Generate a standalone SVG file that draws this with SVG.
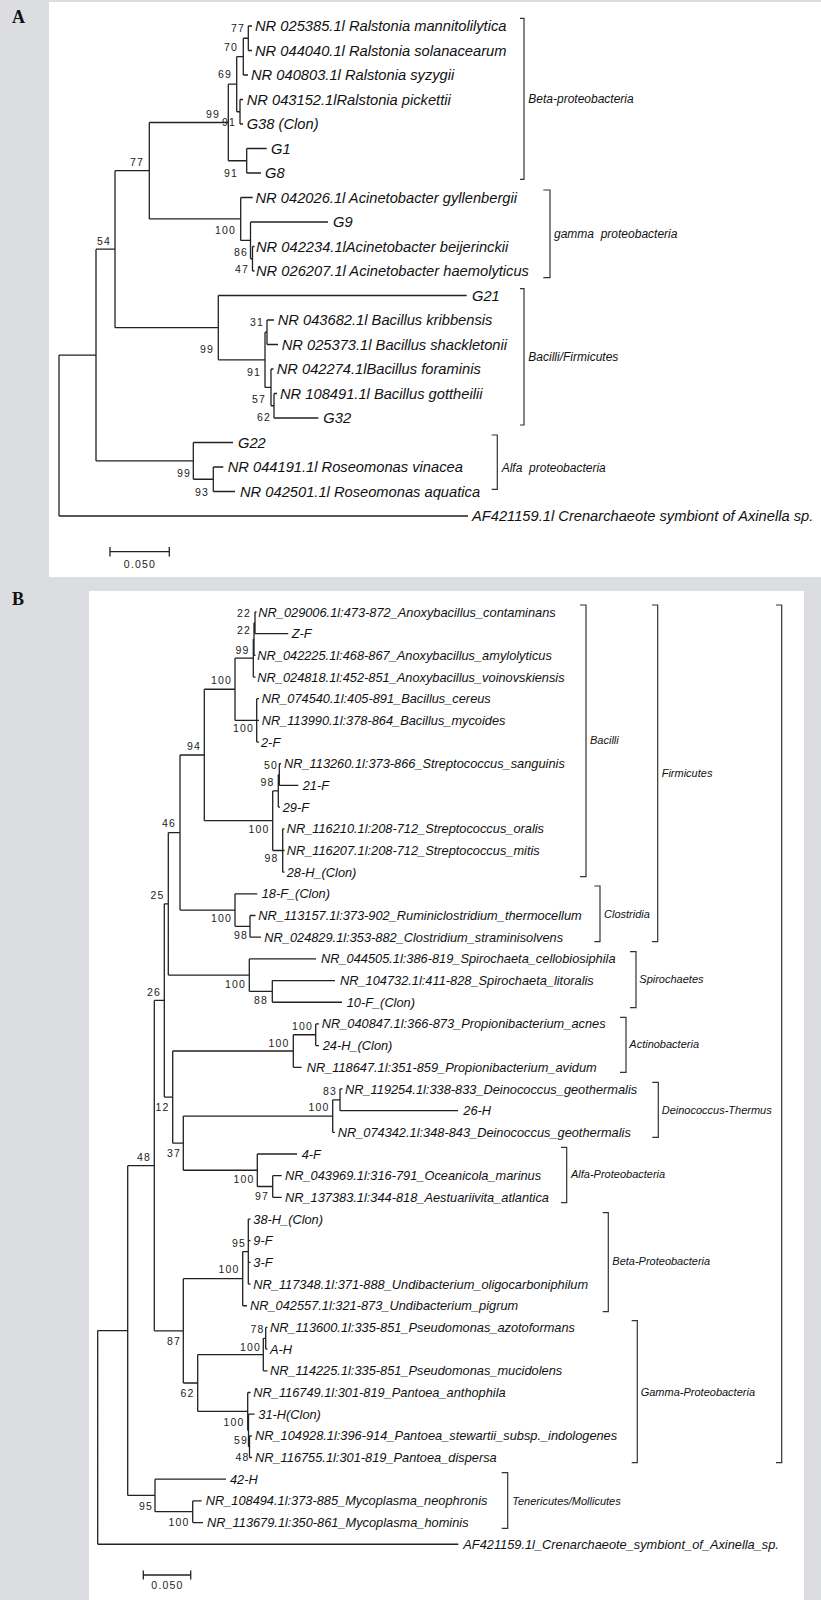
<svg xmlns="http://www.w3.org/2000/svg" width="821" height="1600" viewBox="0 0 821 1600">
<style>
.t{font-family:"Liberation Sans",Arial,sans-serif;font-style:italic;fill:#111}
.ta{font-size:14.7px}
.tb{font-size:12.8px}
.bs{font-family:"Liberation Sans",Arial,sans-serif;font-size:10.5px;letter-spacing:1.2px;fill:#222;text-anchor:end}
.sc{font-family:"Liberation Sans",Arial,sans-serif;font-size:10.5px;letter-spacing:1.2px;fill:#222;text-anchor:middle}
.cl{font-family:"Liberation Sans",Arial,sans-serif;font-style:italic;fill:#111}
.cla{font-size:12px}
.clb{font-size:11px}
.br{fill:none;stroke:#333;stroke-width:1.2}
.tr{fill:none;stroke:#222;stroke-width:1.3}
.pl{font-family:"Liberation Serif","Times New Roman",serif;font-weight:bold;font-size:18px;fill:#111}
</style>
<rect x="0" y="0" width="821" height="1600" fill="#dcdde0"/>
<rect x="49" y="2" width="772" height="575" fill="#ffffff"/>
<rect x="89" y="591" width="715" height="1009" fill="#ffffff"/>
<text class="pl" x="12" y="23">A</text>
<text class="pl" x="12" y="605">B</text>

<g id="connectors-a">
<path class="tr" d="M59 355.05V516M59 355.05H96M59 516H468
M96 249.2V460.9M96 249.2H115M96 460.9H193.3
M115 170.7V327.7M115 170.7H149.3M115 327.7H218.3
M149.3 122.5V218.9M149.3 122.5H228.3M149.3 218.9H240.7
M228.3 84.2V160.75M228.3 84.2H236.7M228.3 160.75H246.7
M236.7 56.6V111.75M236.7 56.6H243.3M236.7 111.75H240
M243.3 38.25V75M243.3 38.25H248.3M243.3 75H248
M248.3 26V50.5M248.3 26H252M248.3 50.5H252
M240 99.5V124M240 99.5H243M240 124H243
M246.7 148.5V173M246.7 148.5H266.7M246.7 173H261
M240.7 197.5V240.4M240.7 197.5H252.7M240.7 240.4H250.5
M250.5 222V258.75M250.5 222H328M250.5 258.75H252.5
M252.5 246.5V271M252.5 246.5H254.5M252.5 271H254.5
M218.3 295.5V359.8M218.3 295.5H466.7M218.3 359.8H265
M265 332.25V387.4M265 332.25H267M265 387.4H271
M267 320V344.5M267 320H274M267 344.5H278
M271 369V405.75M271 369H273.5M271 405.75H274
M274 393.5V418M274 393.5H277M274 418H318.3
M193.3 442.5V479.25M193.3 442.5H233M193.3 479.25H213.3
M213.3 467V491.5M213.3 467H223.3M213.3 491.5H235"/>
<path class="tr" d="M110 551.7H169.3M110 547V556.4M169.3 547V556.4"/>
</g>

<g id="tips-a">
<g id="a1"><text class="t ta" x="255" y="31">NR 025385.1l Ralstonia mannitolilytica</text></g>
<g id="a2"><text class="t ta" x="255" y="55.5">NR 044040.1l Ralstonia solanacearum</text></g>
<g id="a3"><text class="t ta" x="251" y="80">NR 040803.1l Ralstonia syzygii</text></g>
<g id="a4"><text class="t ta" x="246.7" y="104.5">NR 043152.1lRalstonia pickettii</text></g>
<g id="a5"><text class="t ta" x="246.7" y="129">G38 (Clon)</text></g>
<g id="a6"><text class="t ta" x="271" y="153.5">G1</text></g>
<g id="a7"><text class="t ta" x="265" y="178">G8</text></g>
<g id="a8"><text class="t ta" x="255.5" y="202.5">NR 042026.1l Acinetobacter gyllenbergii</text></g>
<g id="a9"><text class="t ta" x="333" y="227">G9</text></g>
<g id="a10"><text class="t ta" x="256" y="251.5">NR 042234.1lAcinetobacter beijerinckii</text></g>
<g id="a11"><text class="t ta" x="256" y="276">NR 026207.1l Acinetobacter haemolyticus</text></g>
<g id="a12"><text class="t ta" x="472" y="300.5">G21</text></g>
<g id="a13"><text class="t ta" x="277.7" y="325">NR 043682.1l Bacillus kribbensis</text></g>
<g id="a14"><text class="t ta" x="281.7" y="349.5">NR 025373.1l Bacillus shackletonii</text></g>
<g id="a15"><text class="t ta" x="276.7" y="374">NR 042274.1lBacillus foraminis</text></g>
<g id="a16"><text class="t ta" x="280" y="398.5">NR 108491.1l Bacillus gottheilii</text></g>
<g id="a17"><text class="t ta" x="323.3" y="423">G32</text></g>
<g id="a18"><text class="t ta" x="238" y="447.5">G22</text></g>
<g id="a19"><text class="t ta" x="227.7" y="472">NR 044191.1l Roseomonas vinacea</text></g>
<g id="a20"><text class="t ta" x="240" y="496.5">NR 042501.1l Roseomonas aquatica</text></g>
<g id="a21"><text class="t ta" x="472" y="521">AF421159.1l Crenarchaeote symbiont of Axinella sp.</text></g>
</g>

<g id="bootstrap-a">
<text class="bs" x="245" y="32">77</text>
<text class="bs" x="238" y="51">70</text>
<text class="bs" x="232" y="78">69</text>
<text class="bs" x="220" y="118">99</text>
<text class="bs" x="236" y="126">91</text>
<text class="bs" x="238" y="177">91</text>
<text class="bs" x="144" y="166">77</text>
<text class="bs" x="111" y="245">54</text>
<text class="bs" x="236" y="234">100</text>
<text class="bs" x="248" y="256">86</text>
<text class="bs" x="249" y="273">47</text>
<text class="bs" x="264" y="326">31</text>
<text class="bs" x="214" y="353">99</text>
<text class="bs" x="261" y="376">91</text>
<text class="bs" x="266" y="403">57</text>
<text class="bs" x="271" y="421">62</text>
<text class="bs" x="191" y="477">99</text>
<text class="bs" x="209" y="496">93</text>
<text class="sc" x="140" y="568">0.050</text>
</g>

<g id="clades-a">
<g id="a-beta"><path class="br" d="M520 18.3H524V179.3H520"/><text class="cl cla" x="528.3" y="103">Beta-proteobacteria</text></g>
<g id="a-gamma"><path class="br" d="M543.3 190H550V277.7H543.3"/><text class="cl cla" x="554" y="237.5" xml:space="preserve">gamma  proteobacteria</text></g>
<g id="a-bacilli"><path class="br" d="M520 288.7H524V425H520"/><text class="cl cla" x="528.3" y="360.7">Bacilli/Firmicutes</text></g>
<g id="a-alfa"><path class="br" d="M491.7 435H497.3V489.3H491.7"/><text class="cl cla" x="501.7" y="472.3" xml:space="preserve">Alfa  proteobacteria</text></g>
</g>

<g id="connectors-b">
<path class="tr" d="M97.7 1330.55V1544.24M97.7 1330.55H127.7M97.7 1544.24H458.3
M127.7 1165.64V1495.46M127.7 1165.64H154.3M127.7 1495.46H155
M154.3 1000.44V1330.83M154.3 1000.44H164.3M154.3 1330.83H183.3
M164.3 903.8V1097.08M164.3 903.8H168.3M164.3 1097.08H172.7
M168.3 832.55V975.1M168.3 832.55H180M168.3 975.1H249.3
M180 755V910.1M180 755H204.3M180 910.1H235
M204.3 689.25V820.7M204.3 689.25H235M204.3 820.7H272.7
M235 658.1V720.4M235 658.1H253.3M235 720.4H256.7
M253.3 639.1V677.04M253.3 639.1H254M253.3 677.04H255.5
M254 622.84V655.36M254 622.84H255M254 655.36H255.5
M255 612V633.68M255 612H256.5M255 633.68H288.3
M256.7 698.72V742.08M256.7 698.72H259M256.7 720.4H259M256.7 742.08H259
M272.7 790.9V850.5M272.7 790.9H278.3M272.7 850.5H282.7
M278.3 774.6V807.12M278.3 774.6H279.3M278.3 807.12H280
M279.3 763.76V785.44M279.3 763.76H281M279.3 785.44H298.3
M282.7 828.8V872.16M282.7 828.8H284.5M282.7 850.48H284.5M282.7 872.16H284.5
M235 893.84V926.36M235 893.84H257.3M235 926.36H250
M250 915.52V937.2M250 915.52H255.5M250 937.2H261
M249.3 958.88V991.4M249.3 958.88H316M249.3 991.4H272.3
M272.3 980.56V1002.24M272.3 980.56H335M272.3 1002.24H342
M172.7 1051V1143.16M172.7 1051H293.3M172.7 1143.16H183.3
M293.3 1034.76V1067.28M293.3 1034.76H315.7M293.3 1067.28H301.7
M315.7 1023.92V1045.6M315.7 1023.92H319M315.7 1045.6H319
M183.3 1116.06V1170.26M183.3 1116.06H332.7M183.3 1170.26H257.3
M332.7 1099.8V1132.32M332.7 1099.8H340M332.7 1132.32H335
M340 1088.96V1110.64M340 1088.96H342.5M340 1110.64H458
M257.3 1154V1186.52M257.3 1154H297M257.3 1186.52H272.7
M272.7 1175.68V1197.36M272.7 1175.68H281.7M272.7 1197.36H281.7
M183.3 1278.66V1383M183.3 1278.66H242.7M183.3 1383H197.7
M242.7 1251.56V1305.76M242.7 1251.56H248.3M242.7 1305.76H247
M248.3 1219.04V1284.08M248.3 1219.04H250.5M248.3 1240.72H250.5M248.3 1262.4H250.5M248.3 1284.08H250.5
M197.7 1354.54V1411.45M197.7 1354.54H263.3M197.7 1411.45H247.7
M263.3 1338.28V1370.8M263.3 1338.28H265.7M263.3 1370.8H267.5
M265.7 1327.44V1349.12M265.7 1327.44H267.5M265.7 1349.12H267.5
M247.7 1392.48V1430.42M247.7 1392.48H250.5M247.7 1430.42H248.5
M248.5 1414.16V1446.68M248.5 1414.16H254.5M248.5 1446.68H249.5
M249.5 1435.84V1457.52M249.5 1435.84H252M249.5 1457.52H252
M155 1479.2V1511.72M155 1479.2H226M155 1511.72H192.7
M192.7 1500.88V1522.56M192.7 1500.88H201.7M192.7 1522.56H203"/>
<path class="tr" d="M143.3 1575H190.7M143.3 1570.5V1579.5M190.7 1570.5V1579.5"/>
</g>

<g id="tips-b">
<g id="b1"><text class="t tb" x="258.3" y="616.5">NR_029006.1l:473-872_Anoxybacillus_contaminans</text></g>
<g id="b2"><text class="t tb" x="291.7" y="638.2">Z-F</text></g>
<g id="b3"><text class="t tb" x="257.3" y="659.9">NR_042225.1l:468-867_Anoxybacillus_amylolyticus</text></g>
<g id="b4"><text class="t tb" x="257.3" y="681.5">NR_024818.1l:452-851_Anoxybacillus_voinovskiensis</text></g>
<g id="b5"><text class="t tb" x="261.7" y="703.2">NR_074540.1l:405-891_Bacillus_cereus</text></g>
<g id="b6"><text class="t tb" x="261.7" y="724.9">NR_113990.1l:378-864_Bacillus_mycoides</text></g>
<g id="b7"><text class="t tb" x="261" y="746.6">2-F</text></g>
<g id="b8"><text class="t tb" x="284" y="768.3">NR_113260.1l:373-866_Streptococcus_sanguinis</text></g>
<g id="b9"><text class="t tb" x="302.7" y="789.9">21-F</text></g>
<g id="b10"><text class="t tb" x="282.7" y="811.6">29-F</text></g>
<g id="b11"><text class="t tb" x="286.7" y="833.3">NR_116210.1l:208-712_Streptococcus_oralis</text></g>
<g id="b12"><text class="t tb" x="286.7" y="855">NR_116207.1l:208-712_Streptococcus_mitis</text></g>
<g id="b13"><text class="t tb" x="286.7" y="876.7">28-H_(Clon)</text></g>
<g id="b14"><text class="t tb" x="261.7" y="898.3">18-F_(Clon)</text></g>
<g id="b15"><text class="t tb" x="258.3" y="920">NR_113157.1l:373-902_Ruminiclostridium_thermocellum</text></g>
<g id="b16"><text class="t tb" x="264.3" y="941.7">NR_024829.1l:353-882_Clostridium_straminisolvens</text></g>
<g id="b17"><text class="t tb" x="321" y="963.4">NR_044505.1l:386-819_Spirochaeta_cellobiosiphila</text></g>
<g id="b18"><text class="t tb" x="340" y="985.1">NR_104732.1l:411-828_Spirochaeta_litoralis</text></g>
<g id="b19"><text class="t tb" x="346.7" y="1006.7">10-F_(Clon)</text></g>
<g id="b20"><text class="t tb" x="321.7" y="1028.4">NR_040847.1l:366-873_Propionibacterium_acnes</text></g>
<g id="b21"><text class="t tb" x="322.7" y="1050.1">24-H_(Clon)</text></g>
<g id="b22"><text class="t tb" x="306.7" y="1071.8">NR_118647.1l:351-859_Propionibacterium_avidum</text></g>
<g id="b23"><text class="t tb" x="345" y="1093.5">NR_119254.1l:338-833_Deinococcus_geothermalis</text></g>
<g id="b24"><text class="t tb" x="463.3" y="1115.1">26-H</text></g>
<g id="b25"><text class="t tb" x="337.7" y="1136.8">NR_074342.1l:348-843_Deinococcus_geothermalis</text></g>
<g id="b26"><text class="t tb" x="301.7" y="1158.5">4-F</text></g>
<g id="b27"><text class="t tb" x="285" y="1180.2">NR_043969.1l:316-791_Oceanicola_marinus</text></g>
<g id="b28"><text class="t tb" x="285" y="1201.9">NR_137383.1l:344-818_Aestuariivita_atlantica</text></g>
<g id="b29"><text class="t tb" x="253.3" y="1223.5">38-H_(Clon)</text></g>
<g id="b30"><text class="t tb" x="253.3" y="1245.2">9-F</text></g>
<g id="b31"><text class="t tb" x="253.3" y="1266.9">3-F</text></g>
<g id="b32"><text class="t tb" x="253.3" y="1288.6">NR_117348.1l:371-888_Undibacterium_oligocarboniphilum</text></g>
<g id="b33"><text class="t tb" x="250" y="1310.3">NR_042557.1l:321-873_Undibacterium_pigrum</text></g>
<g id="b34"><text class="t tb" x="270" y="1331.9">NR_113600.1l:335-851_Pseudomonas_azotoformans</text></g>
<g id="b35"><text class="t tb" x="270" y="1353.6">A-H</text></g>
<g id="b36"><text class="t tb" x="270" y="1375.3">NR_114225.1l:335-851_Pseudomonas_mucidolens</text></g>
<g id="b37"><text class="t tb" x="253.3" y="1397">NR_116749.1l:301-819_Pantoea_anthophila</text></g>
<g id="b38"><text class="t tb" x="258.3" y="1418.7">31-H(Clon)</text></g>
<g id="b39"><text class="t tb" x="255" y="1440.3">NR_104928.1l:396-914_Pantoea_stewartii_subsp._indologenes</text></g>
<g id="b40"><text class="t tb" x="255" y="1462">NR_116755.1l:301-819_Pantoea_dispersa</text></g>
<g id="b41"><text class="t tb" x="230" y="1483.7">42-H</text></g>
<g id="b42"><text class="t tb" x="205.7" y="1505.4">NR_108494.1l:373-885_Mycoplasma_neophronis</text></g>
<g id="b43"><text class="t tb" x="207" y="1527.1">NR_113679.1l:350-861_Mycoplasma_hominis</text></g>
<g id="b44"><text class="t tb" x="463.3" y="1548.7">AF421159.1l_Crenarchaeote_symbiont_of_Axinella_sp.</text></g>
</g>

<g id="bootstrap-b">
<text class="bs" x="251" y="617">22</text>
<text class="bs" x="251" y="634">22</text>
<text class="bs" x="249.5" y="654">99</text>
<text class="bs" x="232" y="684">100</text>
<text class="bs" x="254" y="732">100</text>
<text class="bs" x="201" y="750">94</text>
<text class="bs" x="278" y="769">50</text>
<text class="bs" x="274.5" y="785.7">98</text>
<text class="bs" x="176" y="827.3">46</text>
<text class="bs" x="269.5" y="833.3">100</text>
<text class="bs" x="278.5" y="862.3">98</text>
<text class="bs" x="164.5" y="899">25</text>
<text class="bs" x="232" y="922.3">100</text>
<text class="bs" x="248" y="939">98</text>
<text class="bs" x="246" y="988">100</text>
<text class="bs" x="161" y="995.7">26</text>
<text class="bs" x="268" y="1004">88</text>
<text class="bs" x="313" y="1029.7">100</text>
<text class="bs" x="289.5" y="1046.7">100</text>
<text class="bs" x="337" y="1095">83</text>
<text class="bs" x="169.5" y="1110.7">12</text>
<text class="bs" x="329.5" y="1111.3">100</text>
<text class="bs" x="181" y="1156.7">37</text>
<text class="bs" x="151" y="1160.7">48</text>
<text class="bs" x="254.5" y="1183.3">100</text>
<text class="bs" x="269" y="1200">97</text>
<text class="bs" x="246" y="1246.7">95</text>
<text class="bs" x="239.5" y="1273">100</text>
<text class="bs" x="264.5" y="1333.3">78</text>
<text class="bs" x="181" y="1344.7">87</text>
<text class="bs" x="261" y="1350.7">100</text>
<text class="bs" x="194.5" y="1396.7">62</text>
<text class="bs" x="244.5" y="1425.7">100</text>
<text class="bs" x="248" y="1444">59</text>
<text class="bs" x="249.5" y="1460.7">48</text>
<text class="bs" x="153" y="1509.7">95</text>
<text class="bs" x="189.5" y="1525.7">100</text>
<text class="sc" x="167.5" y="1589">0.050</text>
</g>

<g id="clades-b">
<g id="b-bacilli"><path class="br" d="M580 605H586V876.7H580"/><text class="cl clb" x="590" y="744">Bacilli</text></g>
<g id="b-firmicutes"><path class="br" d="M652 605H657.7V941.7H652"/><text class="cl clb" x="661.7" y="776.7">Firmicutes</text></g>
<g id="b-all"><path class="br" d="M776 605H781.7V1462.7H776"/></g>
<g id="b-clostridia"><path class="br" d="M594.3 886H600V941.7H594.3"/><text class="cl clb" x="604" y="918">Clostridia</text></g>
<g id="b-spiro"><path class="br" d="M630 951.7H636V1007.7H630"/><text class="cl clb" x="639.3" y="983.3">Spirochaetes</text></g>
<g id="b-actino"><path class="br" d="M620 1017.3H626V1072.3H620"/><text class="cl clb" x="629.3" y="1048.3">Actinobacteria</text></g>
<g id="b-deino"><path class="br" d="M652.3 1082.3H658.3V1137.3H652.3"/><text class="cl clb" x="661.7" y="1114">Deinococcus-Thermus</text></g>
<g id="b-alfa"><path class="br" d="M561 1147.3H566.7V1202.7H561"/><text class="cl clb" x="571" y="1178.3">Alfa-Proteobacteria</text></g>
<g id="b-beta"><path class="br" d="M602.7 1212.7H608.3V1311.7H602.7"/><text class="cl clb" x="612.3" y="1265">Beta-Proteobacteria</text></g>
<g id="b-gamma"><path class="br" d="M631.7 1320.7H637.3V1462.7H631.7"/><text class="cl clb" x="640.7" y="1395.7">Gamma-Proteobacteria</text></g>
<g id="b-teneri"><path class="br" d="M501.7 1472.7H507.7V1528.3H501.7"/><text class="cl clb" x="512.3" y="1504.7">Tenericutes/Mollicutes</text></g>
</g>
</svg>
